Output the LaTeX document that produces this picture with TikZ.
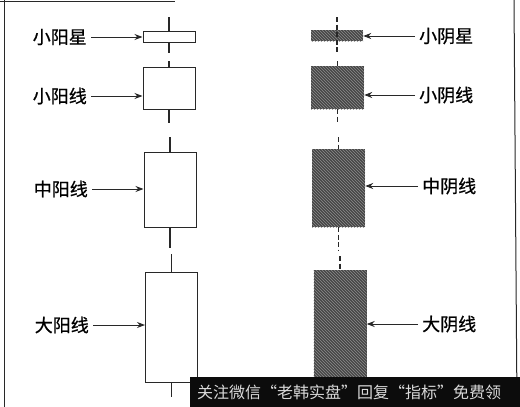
\documentclass[tikz,border=0pt]{standalone}
\usepackage{fontspec}
\newfontfamily\cjk{Noto Sans CJK SC}
\newfontfamily\cjktag{Noto Sans CJK SC}[FakeBold=0.8]
\usetikzlibrary{positioning,arrows.meta,patterns}
\definecolor{InkGray}{RGB}{40,40,40}
\definecolor{YinGray}{RGB}{70,70,70}
\definecolor{BannerBlack}{RGB}{12,12,12}
\tikzset{
  yang/.style={draw=InkGray,line width=1pt,fill=white,inner sep=0pt,minimum width=52pt},
  yin/.style={inner sep=0pt,minimum width=53pt,preaction={fill=YinGray},
    pattern=north west lines,pattern color=black!45},
  tag/.style={font=\cjktag\fontsize{18pt}{18pt}\selectfont,text=black,inner ysep=1pt,inner xsep=4pt},
  pointer/.style={draw=InkGray,line width=1pt,-{Stealth[length=8pt,width=6pt]}},
  wick/.style={draw=InkGray,line width=1.1pt},
  yinwick/.style={draw=InkGray,line width=1.1pt,dash pattern=on 5pt off 2.5pt},
}

\begin{document}
\begin{tikzpicture}[x=1pt,y=-1pt]
\useasboundingbox (0,0) rectangle (520,407);
% frame
\draw[InkGray,line width=1pt] (0,1)--(175,1);
\draw[InkGray,line width=1pt] (4,0)--(4,407);
\draw[InkGray,line width=1pt] (514,0)--(517,407);
% yang candles
\node[yang,minimum height=11pt] (ysx) at (169,36.5) {};
\node[yang,minimum height=42pt] (yxx) at (169,88) {};
\node[yang,minimum height=75pt] (yzx) at (170,189.5) {};
\node[yang,minimum height=110pt] (ydx) at (171.5,327) {};
\foreach \n/\t/\b in {ysx/17/53,yxx/61/123,yzx/137/248,ydx/254/397}{
  \draw[wick] (\n.north) -- (\n.north |- 0,\t);
  \draw[wick] (\n.south) -- (\n.south |- 0,\b);
}
% yin candles
\node[yin,minimum height=11pt,minimum width=52pt] (nsx) at (337,35.5) {};
\node[yin,minimum height=43pt] (nxx) at (337.5,87.5) {};
\node[yin,minimum height=78pt] (nzx) at (338.5,188) {};
\node[yin,minimum height=125pt] (ndx) at (340,332.5) {};
\draw[yinwick] (nsx.north |- 0,17) -- (nsx.south |- 0,53);
\foreach \n/\t/\b in {nxx/61/123,nzx/137/251}{
  \draw[yinwick] (\n.north |- 0,\t) -- (\n.north);
  \draw[yinwick] (\n.south) -- (\n.south |- 0,\b);
}
\draw[yinwick] (ndx.north |- 0,256) -- (ndx.north);
% labels
\node[tag,anchor=east] (lsx) at (91,37) {小阳星};
\node[tag,anchor=east] (lxx) at (91,96) {小阳线};
\node[tag,anchor=east] (lzx) at (92,189) {中阳线};
\node[tag,anchor=east] (ldx) at (93,325) {大阳线};
\node[tag,anchor=west] (rsx) at (415,36) {小阴星};
\node[tag,anchor=west] (rxx) at (415,95) {小阴线};
\node[tag,anchor=west] (rzx) at (418,186) {中阴线};
\node[tag,anchor=west] (rdx) at (418,324) {大阴线};
% pointers
\draw[pointer] (lsx.east) -- (ysx.west |- lsx.east);
\draw[pointer] (lxx.east) -- (yxx.west |- lxx.east);
\draw[pointer] (lzx.east) -- (yzx.west |- lzx.east);
\draw[pointer] (ldx.east) -- (ydx.west |- ldx.east);
\draw[pointer] (rsx.west) -- (nsx.east |- rsx.west);
\draw[pointer] (rxx.west) -- (nxx.east |- rxx.west);
\draw[pointer] (rzx.west) -- (nzx.east |- rzx.west);
\draw[pointer] (rdx.west) -- (ndx.east |- rdx.west);
% banner
\fill[BannerBlack] (190,377) rectangle (520,407);
\node[font=\cjk\fontsize{16pt}{16pt}\selectfont,text=white!85!black,anchor=west,inner sep=0pt]
  (banner) at (197,392) {关注微信“老韩实盘”回复“指标”免费领};
\end{tikzpicture}
\end{document}
